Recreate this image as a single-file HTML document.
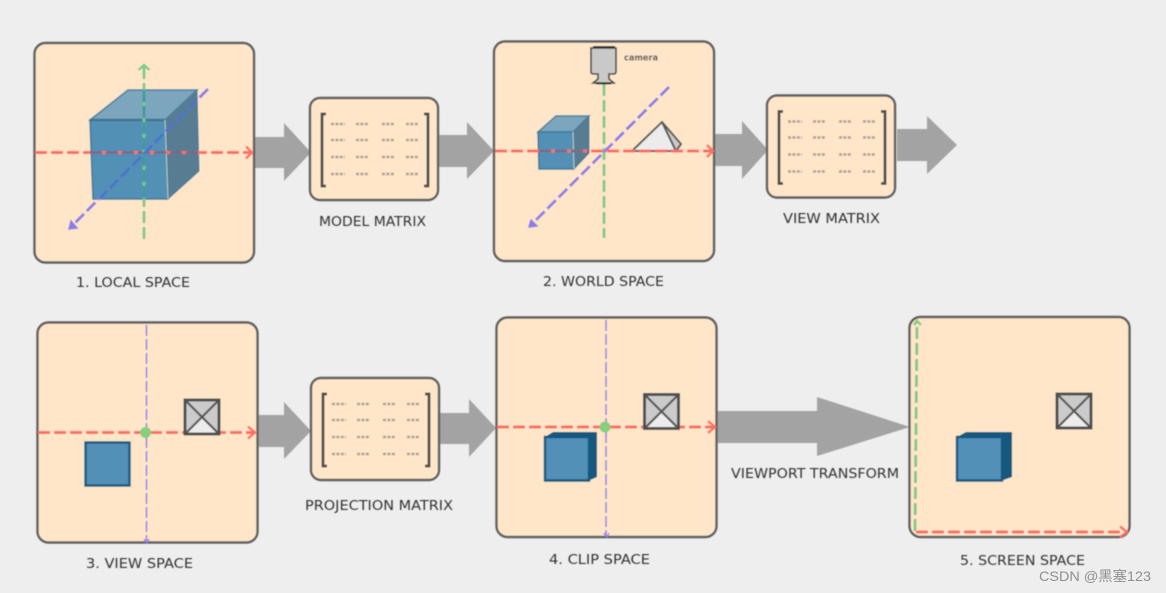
<!DOCTYPE html>
<html>
<head>
<meta charset="utf-8">
<style>
html,body{margin:0;padding:0;background:#eeeeee;width:1166px;height:593px;overflow:hidden}
svg{display:block}
.lbl{font-family:"DejaVu Sans","Liberation Sans",sans-serif;font-size:13.5px;fill:#333}
.panel{fill:#ffe6c9;stroke:#5e5e5e;stroke-width:2.4}
.arr{fill:#a3a3a3}
.r{stroke:#ff6d62;stroke-width:3;stroke-dasharray:12 4;fill:none}
.g{stroke:#7fca86;stroke-width:2.800;stroke-dasharray:12 4;fill:none}
.b{stroke:#8c7ce8;stroke-width:2.800;stroke-dasharray:12 4;fill:none}
.rh{stroke:#ff6d62;stroke-width:2.400;fill:none}
.gh{stroke:#7fca86;stroke-width:2.400;fill:none}
.bh{stroke:#8c7ce8;stroke-width:2.200;fill:none}
</style>
</head>
<body>
<svg width="1166" height="593" viewBox="0 0 1166 593" xmlns="http://www.w3.org/2000/svg">
<defs>
<filter id="s" x="-5%" y="-5%" width="110%" height="110%"><feGaussianBlur stdDeviation="0.45"/></filter>
<g id="matrix">
  <rect x="310" y="98" width="128" height="102" rx="10" class="panel"/>
  <path d="M326 114H322V186H326M424 114H428V186H424" fill="none" stroke="#4c4c4c" stroke-width="2.800"/>
  <g stroke="#ab9f94" stroke-width="2.400" stroke-dasharray="3 1.400" fill="none">
    <path d="M331 124H345M356 124H369M382 124H395M406 124H419"/>
    <path d="M331 140H345M356 140H369M382 140H395M406 140H419"/>
    <path d="M331 157H345M356 157H369M382 157H395M406 157H419"/>
    <path d="M331 174H345M356 174H369M382 174H395M406 174H419"/>
  </g>
</g>
<g id="crate">
  <rect x="0" y="0" width="34" height="34" fill="#cbcbcb"/>
  <path d="M0 34L17 17L34 34Z" fill="#ececec"/>
  <path d="M0 0L34 34M34 0L0 34" stroke="#555" stroke-width="2.200" fill="none"/>
  <rect x="0" y="0" width="34" height="34" fill="none" stroke="#505050" stroke-width="3"/>
</g>
<g id="flat">
  <path d="M0 5L8 0H52V45L44 48.500H0Z" fill="#15587f"/>
  <path d="M0 5H44V48.500H0Z" fill="#5290b8" stroke="#15587f" stroke-width="2.400"/>
</g>
<g id="flat5">
  <path d="M0 5L9 0H55V45L45 48.500H0Z" fill="#15587f"/>
  <path d="M0 5H45V48.500H0Z" fill="#5290b8" stroke="#15587f" stroke-width="2.400"/>
</g>
</defs>

<rect width="1166" height="593" fill="#eeeeee"/>

<g filter="url(#s)">
<!-- block arrows -->
<path class="arr" d="M255 137H284V123L311 152.500L284 181V168H255Z"/>
<path class="arr" d="M438 135H467V122L494 151L467 179V167H438Z"/>
<path class="arr" d="M714 134H742V121L768 150L742 179V166H714Z"/>
<path class="arr" d="M897 129H927V116L957 145L927 174V161H897Z"/>
<path class="arr" d="M258 415H284V402L311 431L284 459V447H258Z"/>
<path class="arr" d="M440 413H469V399L496 428L469 457V444H440Z"/>
<path class="arr" d="M717 411H817V397L910 427L817 456V443H717Z"/>

<!-- panel 1 -->
<rect x="34.500" y="43" width="219.500" height="219.500" rx="11" class="panel"/>
<path d="M90 120L128 90H197L165 120Z" fill="#7ba6bd" stroke="#4b7f9d" stroke-width="1.500"/>
<path d="M165 120L197 90L199 171L168 199Z" fill="#587b91" stroke="#4b7f9d" stroke-width="1"/>
<path d="M90 120H165L168 199H93Z" fill="#5290b5" stroke="#3f7a9d" stroke-width="1.500"/>
<path d="M90 120H165" stroke="#3f7592" stroke-width="2.400"/>
<path d="M165 120L168 199" stroke="#c5cfd2" stroke-width="1"/>
<path d="M35 152.500H250" class="r"/>
<path d="M90 152.500H199" stroke="#6f6d8e" stroke-width="2.800" stroke-dasharray="12 4" fill="none"/>
<path d="M246 146.500L252 152.500L246 158.500" class="rh"/>
<path d="M144 67V239" class="g"/>
<path d="M144 90V199" stroke="#3b98a3" stroke-width="2.600" stroke-dasharray="12 4" fill="none"/>
<path d="M138.500 70L144 65L149.500 70" class="gh"/>
<path d="M208 89L71 227" class="b"/>
<path d="M197 100L100 198" stroke="#3f78c8" stroke-width="2.600" stroke-dasharray="12 4" fill="none"/>
<path d="M69 229L71 221L77 228Z" fill="#8c7ce8" stroke="#8c7ce8" stroke-width="1.500"/>

<!-- matrix 1 -->
<use href="#matrix"/>

<!-- panel 2 -->
<rect x="494" y="41.500" width="220" height="219.500" rx="11" class="panel"/>
<path d="M604 84V238" class="g"/>
<path d="M669 87L530 226" class="b"/>
<path d="M529 227L531 220L537 226Z" fill="#8c7ce8" stroke="#8c7ce8" stroke-width="1.500"/>
<path d="M538 132L556 116H589L573 132Z" fill="#7ba6bd" stroke="#4b7f9d" stroke-width="1.500"/>
<path d="M573 132L589 116V153L574 169Z" fill="#587b91" stroke="#4b7f9d" stroke-width="1"/>
<path d="M538 132H573L574 169H539Z" fill="#5290b5" stroke="#3f7a9d" stroke-width="1.500"/>
<path d="M573 132L574 169" stroke="#c5cfd2" stroke-width="1"/>
<path d="M632 151L662 122L676 151Z" fill="#ececec" stroke="#5a5a5a" stroke-width="2"/>
<path d="M662 122L681 144L676 151Z" fill="#cbcbcb" stroke="#5a5a5a" stroke-width="2"/>
<path d="M495 151H711" class="r"/>
<path d="M539 151H589" stroke="#6f6d8e" stroke-width="2.800" stroke-dasharray="12 4" fill="none"/>
<path d="M707 145L713 151L707 157" class="rh"/>
<!-- camera -->
<path d="M591 48H616V72Q616 74 613 74H609V79L614 83H593L598 79V74H594Q591 74 591 72Z" fill="#c9c9c9" stroke="#444" stroke-width="1.600"/>
<path d="M593 47H615M596 83.500H611" stroke="#222" stroke-width="1.800"/>
<text x="624" y="60.500" font-family="'DejaVu Sans','Liberation Sans',sans-serif" font-size="8.500" font-weight="bold" fill="#555" textLength="34" lengthAdjust="spacingAndGlyphs">camera</text>

<!-- matrix 2 -->
<use href="#matrix" x="457" y="-2.500"/>

<!-- panel 3 -->
<rect x="37.500" y="322.500" width="220" height="220" rx="11" class="panel"/>
<path d="M146.500 325V541" class="b" style="stroke-width:1.500;stroke-dasharray:11 3"/>
<path d="M144 539L147 543L149 539" class="bh" style="stroke-width:1.300"/>
<path d="M38 432.500H253" class="r"/>
<path d="M248 426.500L255 432.500L248 438.500" class="rh"/>
<circle cx="145.500" cy="432.500" r="5.500" fill="#86cf7c"/>
<rect x="85.500" y="442.500" width="44" height="43" fill="#5290b8" stroke="#15587f" stroke-width="2.400"/>
<use href="#crate" x="185" y="400"/>

<!-- matrix 3 -->
<use href="#matrix" x="1" y="280"/>

<!-- panel 4 -->
<rect x="496.500" y="317.500" width="220" height="219.500" rx="11" class="panel"/>
<path d="M606 320V535" class="b" style="stroke-width:1.500;stroke-dasharray:11 3"/>
<path d="M604 533L607 537L609 533" class="bh" style="stroke-width:1.300"/>
<path d="M497 427H713" class="r"/>
<path d="M708 421L715 427L708 433" class="rh"/>
<circle cx="605" cy="427" r="5.500" fill="#86cf7c"/>
<use href="#flat" x="545" y="432"/>
<use href="#crate" x="644.500" y="394.500"/>

<!-- panel 5 -->
<rect x="909.500" y="317" width="220" height="220" rx="11" class="panel"/>
<path d="M915 531L917 323" class="g"/>
<path d="M914 325L917 321L921 325" class="gh"/>
<path d="M916 532H1124" class="r"/>
<path d="M1120 526.500L1127 532L1120 537" class="rh"/>
<use href="#flat5" x="957" y="432"/>
<use href="#crate" x="1057" y="394"/>

<!-- labels -->
<text class="lbl" x="76" y="287" textLength="114" lengthAdjust="spacingAndGlyphs">1. LOCAL SPACE</text>
<text class="lbl" x="319" y="226" textLength="107" lengthAdjust="spacingAndGlyphs">MODEL MATRIX</text>
<text class="lbl" x="543" y="286" textLength="121" lengthAdjust="spacingAndGlyphs">2. WORLD SPACE</text>
<text class="lbl" x="783" y="223" textLength="97" lengthAdjust="spacingAndGlyphs">VIEW MATRIX</text>
<text class="lbl" x="86" y="568" textLength="107" lengthAdjust="spacingAndGlyphs">3. VIEW SPACE</text>
<text class="lbl" x="305" y="510" textLength="148" lengthAdjust="spacingAndGlyphs">PROJECTION MATRIX</text>
<text class="lbl" x="549" y="564" textLength="101" lengthAdjust="spacingAndGlyphs">4. CLIP SPACE</text>
<text class="lbl" x="731" y="478" textLength="168" lengthAdjust="spacingAndGlyphs">VIEWPORT TRANSFORM</text>
<text class="lbl" x="960" y="565" textLength="125" lengthAdjust="spacingAndGlyphs">5. SCREEN SPACE</text>
</g>
<text x="1039" y="581" font-family="'Liberation Sans','Noto Sans CJK SC',sans-serif" font-size="14" fill="#8f8f8f" textLength="112" lengthAdjust="spacingAndGlyphs">CSDN @黑塞123</text>
</svg>
</body>
</html>
